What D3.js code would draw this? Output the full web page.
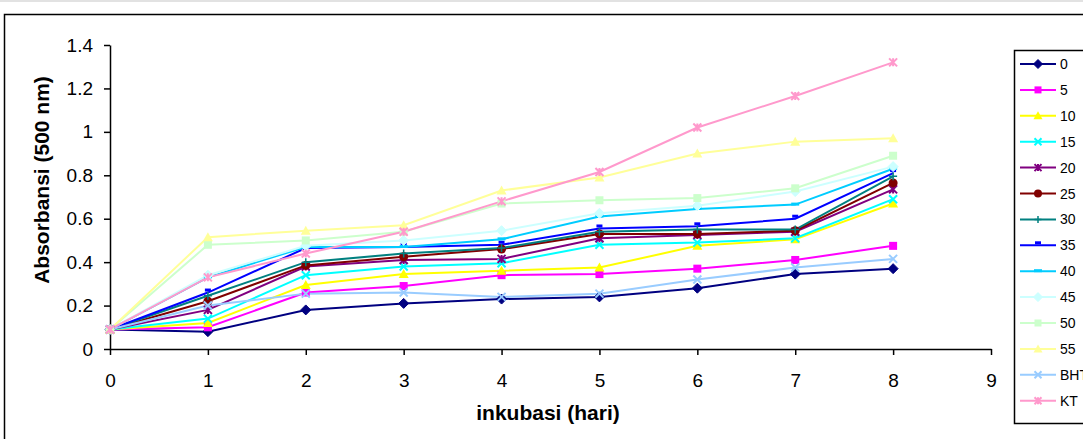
<!DOCTYPE html>
<html>
<head>
    <meta charset="utf-8">
    <title>Absorbansi</title>
    <script type="text/javascript" src="https://cdn.jsdelivr.net/npm/d3@7"></script>
</head>
<body style="margin:0;background:#fff;">

<style>
.axis path, .axis line { stroke: #000; stroke-width: 1.5; }
.axis text { font-family: "Liberation Sans", Arial, sans-serif; font-size: 19px; fill: #000; }
.title { font-family: "Liberation Sans", Arial, sans-serif; font-size: 21px; font-weight: bold; }
.legend text { font-family: "Liberation Sans", Arial, sans-serif; font-size: 14px; }
</style>

<script type="text/javascript">
    // hari inkubasi
    var days = [0, 1, 2, 3, 4, 5, 6, 7, 8];

    var seriesNames = ["0", "5", "10", "15", "20", "25", "30", "35", "40", "45", "50", "55", "BHT", "KT"];

    var s0   = [0.09, 0.08, 0.18, 0.21, 0.23, 0.24, 0.28, 0.345, 0.37];
    var s5   = [0.09, 0.10, 0.26, 0.29, 0.34, 0.345, 0.37, 0.41, 0.475];
    var s10  = [0.09, 0.12, 0.295, 0.345, 0.36, 0.375, 0.475, 0.505, 0.67];
    var s15  = [0.09, 0.14, 0.34, 0.38, 0.395, 0.48, 0.49, 0.51, 0.69];
    var s20  = [0.09, 0.18, 0.38, 0.41, 0.415, 0.51, 0.525, 0.54, 0.735];
    var s25  = [0.09, 0.22, 0.385, 0.425, 0.46, 0.53, 0.53, 0.545, 0.765];
    var s30  = [0.09, 0.245, 0.40, 0.44, 0.465, 0.54, 0.55, 0.55, 0.795];
    var s35  = [0.09, 0.26, 0.465, 0.47, 0.48, 0.555, 0.565, 0.60, 0.81];
    var s40  = [0.09, 0.33, 0.47, 0.47, 0.505, 0.61, 0.645, 0.665, 0.83];
    var s45  = [0.09, 0.34, 0.475, 0.50, 0.545, 0.625, 0.66, 0.725, 0.84];
    var s50  = [0.09, 0.48, 0.50, 0.54, 0.67, 0.685, 0.695, 0.74, 0.89];
    var s55  = [0.09, 0.515, 0.545, 0.57, 0.73, 0.79, 0.90, 0.955, 0.97];
    var sBHT = [0.09, 0.20, 0.255, 0.26, 0.24, 0.255, 0.32, 0.375, 0.415];
    var sKT  = [0.09, 0.33, 0.44, 0.54, 0.68, 0.815, 1.02, 1.165, 1.32];

    var xTicks = [0, 1, 2, 3, 4, 5, 6, 7, 8, 9];
    var yTicks = [0, 0.2, 0.4, 0.6, 0.8, 1, 1.2, 1.4];

    var values = [s0, s5, s10, s15, s20, s25, s30, s35, s40, s45, s50, s55, sBHT, sKT];
    var colors = ["#000080", "#FF00FF", "#FFFF00", "#00FFFF", "#800080", "#800000", "#008080",
                  "#0000FF", "#00CCFF", "#CCFFFF", "#CCFFCC", "#FFFF99", "#99CCFF", "#FF99CC"];
    var markers = ["diamond", "square", "triangle", "x", "star", "circle", "plus",
                   "dash", "longdash", "diamond", "square", "triangle", "x", "star"];

    var width = 1083,
        height = 439,
        plotLeft = 110, plotRight = 991,
        plotTop = 45, plotBottom = 349;

    var x = d3.scaleLinear().domain([0, 9]).range([plotLeft, plotRight]);
    var y = d3.scaleLinear().domain([0, 1.4]).range([plotBottom, plotTop]);

    var svg = d3.select("body").append("svg")
        .attr("width", width)
        .attr("height", height);

    // light strip at the very top + chart border
    svg.append("rect").attr("x", 0).attr("y", 0).attr("width", width).attr("height", 2).attr("fill", "#e2e2e2");
    svg.append("rect")
        .attr("x", 4.5).attr("y", 14.5)
        .attr("width", width + 10).attr("height", height)
        .attr("fill", "none").attr("stroke", "#000").attr("stroke-width", 1.5);

    // axes
    svg.append("g")
        .attr("class", "axis")
        .attr("transform", "translate(0," + plotBottom + ")")
        .call(d3.axisBottom(x).tickValues(xTicks).tickSize(6).tickPadding(19).tickSizeOuter(0));

    svg.append("g")
        .attr("class", "axis")
        .attr("transform", "translate(" + plotLeft + ",0)")
        .call(d3.axisLeft(y).tickValues(yTicks).tickSize(6).tickPadding(11).tickSizeOuter(0)
              .tickFormat(function(d){ return String(+d.toFixed(1)); }));

    svg.append("text").attr("class", "title")
        .attr("x", 548).attr("y", 420)
        .attr("text-anchor", "middle")
        .text("inkubasi (hari)");

    svg.append("text").attr("class", "title")
        .attr("transform", "translate(49,180) rotate(-90)")
        .attr("text-anchor", "middle")
        .text("Absorbansi (500 nm)");

    function drawMarker(g, type, color, s) {
        var h = s / 2;
        if (type === "diamond") {
            g.append("path").attr("d", "M0," + (-h-1) + "L" + (h+1) + ",0L0," + (h+1) + "L" + (-h-1) + ",0Z")
                .attr("fill", color).attr("stroke", color);
        } else if (type === "square") {
            g.append("rect").attr("x", -h).attr("y", -h).attr("width", s).attr("height", s)
                .attr("fill", color);
        } else if (type === "triangle") {
            g.append("path").attr("d", "M0," + (-h-1) + "L" + (h+1) + "," + h + "L" + (-h-1) + "," + h + "Z")
                .attr("fill", color);
        } else if (type === "circle") {
            g.append("circle").attr("r", h + 0.5).attr("fill", color);
        } else if (type === "x") {
            g.append("path").attr("d", "M" + (-h) + "," + (-h) + "L" + h + "," + h + "M" + (-h) + "," + h + "L" + h + "," + (-h))
                .attr("stroke", color).attr("stroke-width", 2).attr("fill", "none");
        } else if (type === "star") {
            g.append("path").attr("d", "M" + (-h) + "," + (-h) + "L" + h + "," + h + "M" + (-h) + "," + h + "L" + h + "," + (-h) +
                    "M0," + (-h) + "L0," + h)
                .attr("stroke", color).attr("stroke-width", 2).attr("fill", "none");
        } else if (type === "plus") {
            g.append("path").attr("d", "M0," + (-h) + "L0," + h + "M" + (-h) + ",0L" + h + ",0")
                .attr("stroke", color).attr("stroke-width", 1.5).attr("fill", "none");
        } else if (type === "dash") {
            g.append("rect").attr("x", -3).attr("y", -4).attr("width", 6).attr("height", 3).attr("fill", color);
        } else if (type === "longdash") {
            g.append("rect").attr("x", -4).attr("y", -2).attr("width", 8).attr("height", 3).attr("fill", color);
        }
    }

    var line = d3.line()
        .x(function(d, i){ return x(days[i]); })
        .y(function(d){ return y(d); });

    var plot = svg.append("g");

    values.forEach(function(vals, k){
        plot.append("path")
            .attr("d", line(vals))
            .attr("fill", "none")
            .attr("stroke", colors[k])
            .attr("stroke-width", 2);
    });

    values.forEach(function(vals, k){
        vals.forEach(function(v, i){
            var g = plot.append("g").attr("transform", "translate(" + x(days[i]) + "," + y(v) + ")");
            drawMarker(g, markers[k], colors[k], 8);
        });
    });

    // legend
    var legend = svg.append("g").attr("class", "legend");
    legend.append("rect")
        .attr("x", 1014.5).attr("y", 50.5)
        .attr("width", 100).attr("height", 373)
        .attr("fill", "#fff").attr("stroke", "#000").attr("stroke-width", 1.5);

    seriesNames.forEach(function(name, k){
        var ly = 64 + k * 25.9;
        legend.append("line")
            .attr("x1", 1020).attr("x2", 1056)
            .attr("y1", ly).attr("y2", ly)
            .attr("stroke", colors[k]).attr("stroke-width", 2);
        var g = legend.append("g").attr("transform", "translate(1038," + ly + ")");
        drawMarker(g, markers[k], colors[k], 7);
        legend.append("text")
            .attr("x", 1060).attr("y", ly + 5)
            .text(name);
    });
</script>

</body>
</html>
